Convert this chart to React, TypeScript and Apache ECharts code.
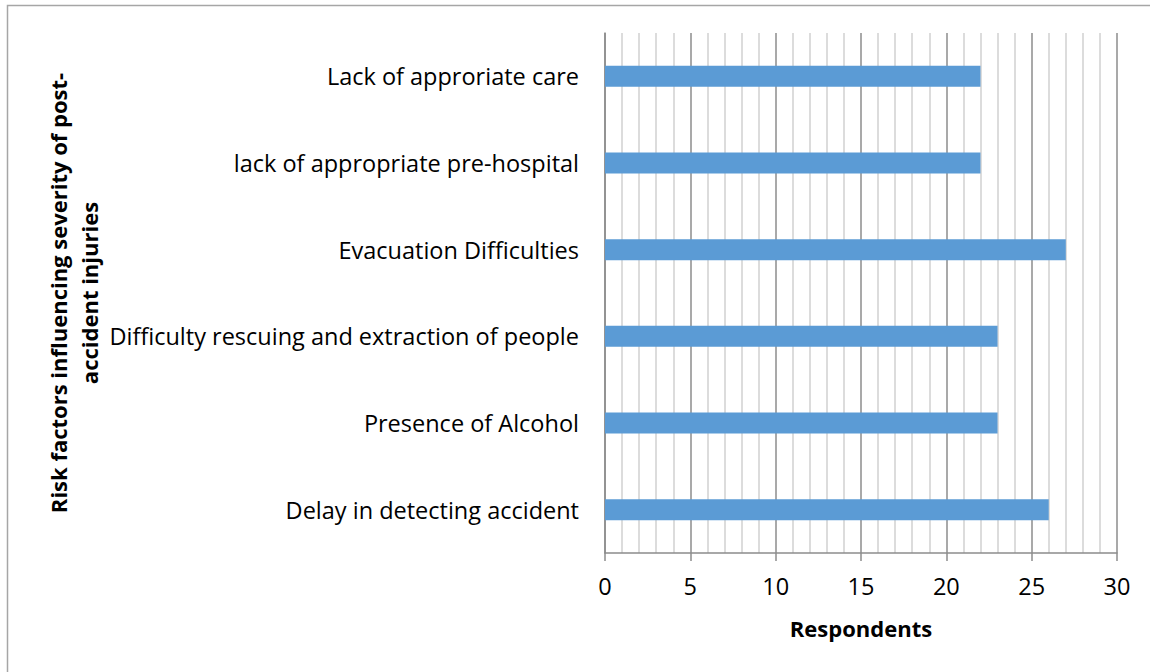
import React, { useEffect, useRef } from "react";
import * as echarts from "echarts";

const categories = [
  "Lack of approriate care",
  "lack of appropriate pre-hospital",
  "Evacuation Difficulties",
  "Difficulty rescuing and extraction of people",
  "Presence of Alcohol",
  "Delay in detecting accident",
];
const respondents = [22, 22, 27, 23, 23, 26];
const xMin = 0;
const xMax = 30;
const xInterval = 5;
const xTitle = "Respondents";
const yTitle = "Risk factors influencing severity of post-\naccident injuries";

const FONT = '"Open Sans", "Noto Sans", sans-serif';

export default function App() {
  const ref = useRef<HTMLDivElement>(null);
  useEffect(() => {
    if (!ref.current) return;
    const chart = echarts.init(ref.current, null, { renderer: "svg" });
    chart.setOption({
      animation: false,
      backgroundColor: "#ffffff",
      textStyle: { fontFamily: FONT },
      grid: { left: 605, right: 33, top: 33, bottom: 119, containLabel: false },
      graphic: [
        {
          type: "rect",
          shape: { x: 7.5, y: 5.5, width: 1200, height: 700 },
          style: { fill: "none", stroke: "#a6a6a6", lineWidth: 1.5 },
          silent: true,
        },
      ],
      xAxis: {
        type: "value",
        min: xMin,
        max: xMax,
        interval: xInterval,
        name: xTitle,
        nameLocation: "middle",
        nameGap: 64,
        nameTextStyle: { fontFamily: FONT, fontWeight: "bold", fontSize: 22, color: "#000" },
        axisLine: { show: true, lineStyle: { color: "#8c8c8c", width: 1.5 } },
        axisTick: { show: true, length: 8, lineStyle: { color: "#8c8c8c", width: 1.5 } },
        axisLabel: { margin: 21, fontSize: 23.5, color: "#000", fontFamily: FONT },
        splitLine: { show: true, lineStyle: { color: "#8c8c8c", width: 1.5 } },
        minorTick: { show: false, splitNumber: 5 },
        minorSplitLine: { show: true, lineStyle: { color: "#d0d0d0", width: 1.5 } },
      },
      yAxis: {
        type: "category",
        data: categories,
        inverse: true,
        name: yTitle,
        nameLocation: "middle",
        nameRotate: 90,
        nameGap: 501,
        nameTextStyle: {
          fontFamily: FONT,
          fontWeight: "bold",
          fontSize: 22,
          color: "#000",
          lineHeight: 31,
          align: "center",
        },
        axisLine: { show: true, lineStyle: { color: "#8c8c8c", width: 1.5 } },
        axisTick: { show: false },
        axisLabel: { margin: 26, fontSize: 23.5, color: "#000", fontFamily: FONT },
        splitLine: { show: false },
      },
      series: [
        {
          type: "bar",
          data: respondents,
          barWidth: 21,
          itemStyle: { color: "#5b9bd5" },
        },
      ],
    });
    return () => chart.dispose();
  }, []);
  return (
    <div
      ref={ref}
      style={{ position: "fixed", left: 0, top: 0, width: 1150, height: 672 }}
    />
  );
}
